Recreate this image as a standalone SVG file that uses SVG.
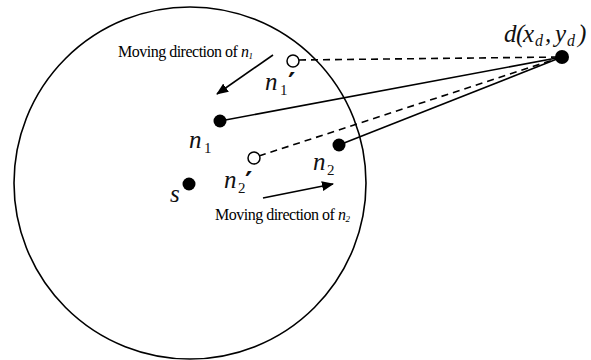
<svg xmlns="http://www.w3.org/2000/svg" width="591" height="360" viewBox="0 0 591 360">
<style>
.ln{stroke:#000;stroke-width:1.6;fill:none}
.dash{stroke-dasharray:7 5}
.dot{fill:#000}
.open{fill:#fff;stroke:#000;stroke-width:1.5}
.m{font-family:"Liberation Serif","Times New Roman",serif;font-style:italic;font-size:25px;fill:#111}
.sub{font-family:"Liberation Serif",serif;font-style:normal;font-size:15px}
.sit{font-family:"Liberation Serif",serif;font-style:italic;font-size:16px}
.pr{font-family:"DejaVu Sans",sans-serif;font-style:normal;font-size:28px;font-weight:bold}
.t{font-family:"Liberation Serif",serif;font-size:16px;fill:#000;letter-spacing:-0.5px}
.ti{font-style:italic}
.ts{font-style:italic;font-size:9px}
</style>
<defs>
<marker id="ah" viewBox="0 0 12 10" refX="11" refY="5" markerWidth="12" markerHeight="10" markerUnits="userSpaceOnUse" orient="auto">
<path d="M0,0 L12,5 L0,10 Z" fill="#000"/>
</marker>
</defs>
<g id="range">
<circle cx="190" cy="183" r="176" class="ln"/>
</g>
<g id="connectors">
<line x1="299" y1="60" x2="562" y2="57" class="ln dash"/>
<line x1="220" y1="121" x2="562" y2="57" class="ln"/>
<line x1="259" y1="156" x2="562" y2="57" class="ln dash"/>
<line x1="339" y1="145" x2="562" y2="57" class="ln"/>
<line x1="273" y1="55" x2="217" y2="94" class="ln" marker-end="url(#ah)"/>
<line x1="263" y1="198" x2="333" y2="184" class="ln" marker-end="url(#ah)"/>
</g>
<g id="node-n1p">
<circle cx="293" cy="61" r="6" class="open"/>
<text class="m" x="265" y="90">n<tspan class="sub" x="280" y="95">1</tspan><tspan class="pr" x="288" y="93">′</tspan></text>
</g>
<g id="node-n1">
<circle cx="220" cy="121" r="6.5" class="dot"/>
<text class="m" x="189" y="148">n<tspan class="sub" x="204" y="153">1</tspan></text>
</g>
<g id="node-n2p">
<circle cx="254" cy="158" r="6" class="open"/>
<text class="m" x="224" y="188">n<tspan class="sub" x="238" y="193">2</tspan><tspan class="pr" x="245" y="192">′</tspan></text>
</g>
<g id="node-n2">
<circle cx="339" cy="145" r="6.5" class="dot"/>
<text class="m" x="313" y="170">n<tspan class="sub" x="327" y="175">2</tspan></text>
</g>
<g id="node-s">
<circle cx="189" cy="184" r="6.5" class="dot"/>
<text class="m" x="170" y="202">s</text>
</g>
<g id="node-d">
<circle cx="562" cy="57" r="7" class="dot"/>
<text class="m" x="504" y="42">d<tspan x="516">(</tspan><tspan x="523">x</tspan><tspan class="sit" x="535" y="46">d</tspan><tspan x="545" y="42">,</tspan><tspan x="555">y</tspan><tspan class="sit" x="567" y="46">d</tspan><tspan x="578" y="42">)</tspan></text>
</g>
<g id="label-dir1">
<text class="t" x="118" y="57">Moving direction of <tspan class="ti">n</tspan><tspan class="ts" dy="2">1</tspan></text>
</g>
<g id="label-dir2">
<text class="t" x="215" y="220">Moving direction of <tspan class="ti">n</tspan><tspan class="ts" dy="2">2</tspan></text>
</g>
</svg>
